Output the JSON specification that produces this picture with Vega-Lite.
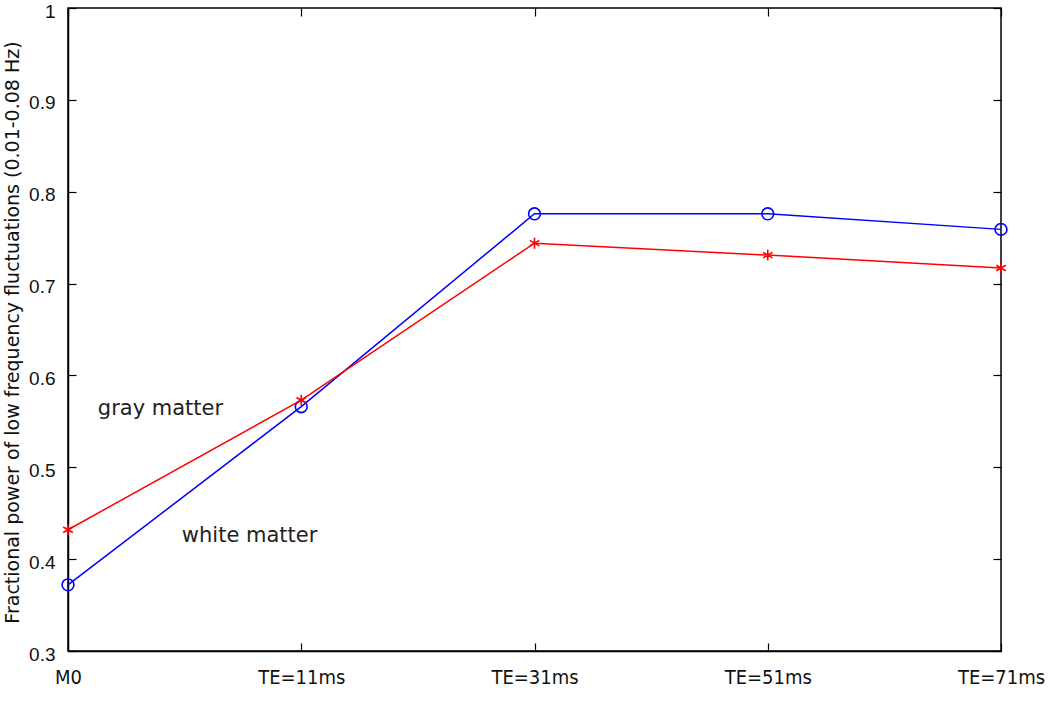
{
  "$schema": "https://vega.github.io/schema/vega-lite/v6.json",
  "width": 933,
  "height": 643,
  "autosize": {"type": "none"},
  "padding": {"left": 68, "top": 8, "right": 49, "bottom": 61},
  "background": "white",
  "config": {
    "view": {"stroke": "black", "strokeWidth": 1.5},
    "axis": {"grid": false, "domainColor": "black", "tickColor": "black", "domainWidth": 1.5, "tickWidth": 1.2, "labelColor": "#111111", "titleColor": "#111111"}
  },
  "datasets": {
    "series": [
      {"step": 0, "stage": "M0", "tissue": "white matter", "value": 0.372},
      {"step": 1, "stage": "TE=11ms", "tissue": "white matter", "value": 0.566},
      {"step": 2, "stage": "TE=31ms", "tissue": "white matter", "value": 0.776},
      {"step": 3, "stage": "TE=51ms", "tissue": "white matter", "value": 0.776},
      {"step": 4, "stage": "TE=71ms", "tissue": "white matter", "value": 0.759},
      {"step": 0, "stage": "M0", "tissue": "gray matter", "value": 0.432},
      {"step": 1, "stage": "TE=11ms", "tissue": "gray matter", "value": 0.573},
      {"step": 2, "stage": "TE=31ms", "tissue": "gray matter", "value": 0.744},
      {"step": 3, "stage": "TE=51ms", "tissue": "gray matter", "value": 0.731},
      {"step": 4, "stage": "TE=71ms", "tissue": "gray matter", "value": 0.717}
    ],
    "labels": [
      {"step": 0.128, "value": 0.563, "text": "gray matter"},
      {"step": 0.488, "value": 0.425, "text": "white matter"}
    ]
  },
  "layer": [
    {
      "data": {"name": "series"},
      "mark": {"type": "line", "strokeWidth": 1.5},
      "encoding": {
        "x": {"field": "step", "type": "quantitative", "scale": {"domain": [0, 4], "nice": false},
          "axis": {"orient": "bottom", "values": [0, 1, 2, 3, 4], "title": null, "tickSize": -8, "labelPadding": 24,
            "labelExpr": "['M0','TE=11ms','TE=31ms','TE=51ms','TE=71ms'][datum.value]",
            "labelFont": "DejaVu Sans Condensed", "labelFontSize": 20, "labelFlush": false}},
        "y": {"field": "value", "type": "quantitative", "scale": {"domain": [0.3, 1], "nice": false, "zero": false},
          "axis": {"orient": "left", "values": [0.3, 0.4, 0.5, 0.6, 0.7, 0.8, 0.9, 1], "tickSize": -8, "labelPadding": 21, "labelOffset": 3,
            "labelFont": "Liberation Sans", "labelFontSize": 19, "labelFlush": false,
            "labelExpr": "datum.value == 1 ? '1' : format(datum.value, '.1f')",
            "title": "Fractional power of low frequency fluctuations (0.01-0.08 Hz)",
            "titleFont": "DejaVu Sans", "titleFontSize": 19, "titleFontWeight": "normal",
            "titleX": -56, "titleY": 324, "titleAngle": -90, "titleBaseline": "middle", "titleAlign": "center"}},
        "color": {"field": "tissue", "type": "nominal", "scale": {"domain": ["white matter", "gray matter"], "range": ["#0000ff", "#ff0000"]}, "legend": null}
      }
    },
    {
      "data": {"name": "series"},
      "transform": [{"filter": "datum.tissue == 'white matter'"}],
      "mark": {"type": "point", "shape": "circle", "filled": false, "size": 140, "strokeWidth": 1.6, "color": "#0000ff", "opacity": 1},
      "encoding": {
        "x": {"field": "step", "type": "quantitative", "axis": {"orient": "top", "values": [0, 1, 2, 3, 4], "labels": false, "title": null, "tickSize": -8, "domain": false}},
        "y": {"field": "value", "type": "quantitative", "axis": {"orient": "right", "values": [0.3, 0.4, 0.5, 0.6, 0.7, 0.8, 0.9, 1], "labels": false, "title": null, "tickSize": -8, "domain": false}}
      }
    },
    {
      "data": {"name": "series"},
      "transform": [{"filter": "datum.tissue == 'gray matter'"}],
      "mark": {"type": "point", "shape": "M0,-1L0,1M-0.87,-0.5L0.87,0.5M-0.87,0.5L0.87,-0.5", "filled": false, "size": 120, "strokeWidth": 1.6, "color": "#ff0000", "opacity": 1},
      "encoding": {
        "x": {"field": "step", "type": "quantitative", "axis": null},
        "y": {"field": "value", "type": "quantitative", "axis": null}
      }
    },
    {
      "data": {"name": "labels"},
      "mark": {"type": "text", "align": "left", "baseline": "middle", "font": "DejaVu Sans", "fontSize": 21, "color": "#222222"},
      "encoding": {
        "x": {"field": "step", "type": "quantitative", "axis": null},
        "y": {"field": "value", "type": "quantitative", "axis": null},
        "text": {"field": "text"}
      }
    }
  ],
  "resolve": {"axis": {"x": "independent", "y": "independent"}}
}
